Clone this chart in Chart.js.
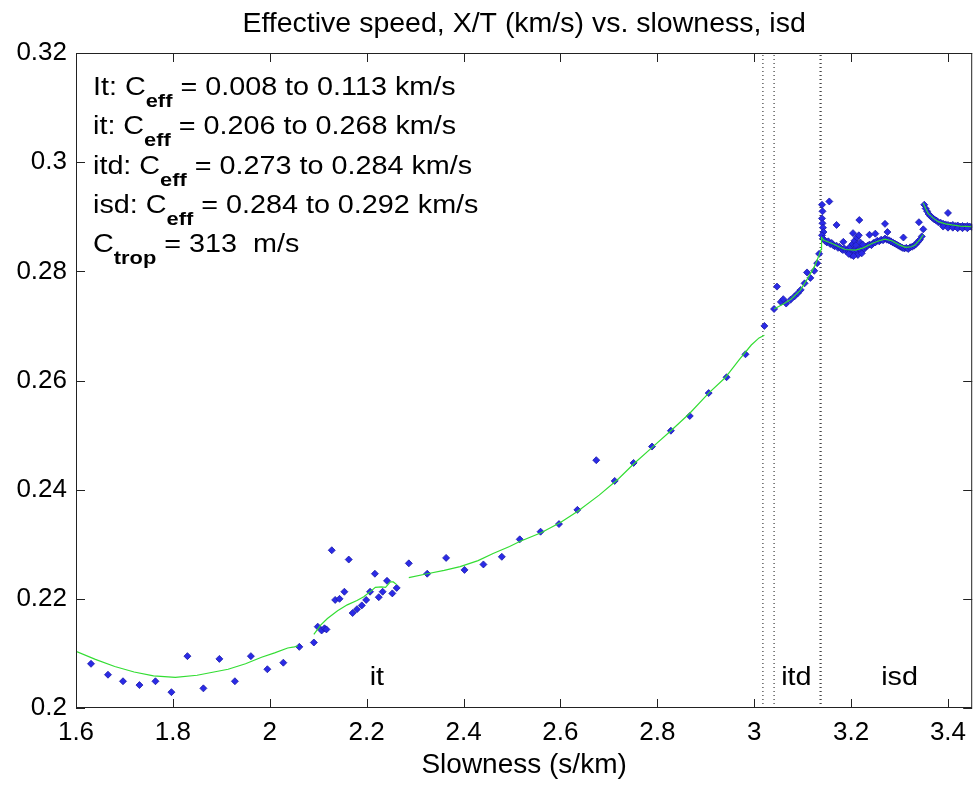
<!DOCTYPE html>
<html>
<head>
<meta charset="utf-8">
<script src="https://cdn.jsdelivr.net/npm/chart.js@4"></script>
<style>
  html, body { margin: 0; padding: 0; background: #fff; }
  #wrap { width: 977px; height: 786px; }
</style>
</head>
<body>
<div id="wrap"><canvas id="speedChart" width="977" height="786"></canvas></div>
<script>
// measured points (slowness s/km, effective speed km/s)
const slownessPts = [
  1.631, 1.666, 1.697, 1.731, 1.764, 1.797, 1.830, 1.863, 1.896, 1.928, 1.961, 1.995, 2.028, 2.061,
  2.091, 2.099, 2.107, 2.113, 2.117, 2.128, 2.135, 2.144, 2.154, 2.163, 2.171, 2.180, 2.190, 2.199,
  2.207, 2.217, 2.225, 2.233, 2.242, 2.253, 2.262, 2.287, 2.325, 2.364, 2.402, 2.441, 2.479, 2.516,
  2.559, 2.597, 2.635, 2.674, 2.712, 2.751, 2.789, 2.828, 2.867, 2.906, 2.943, 2.982, 3.021,
  // itd
  3.041, 3.047, 3.055, 3.060, 3.066, 3.075, 3.083, 3.090, 3.096, 3.104, 3.109, 3.116, 3.124, 3.130, 3.134,
  // isd
  3.140, 3.141, 3.140, 3.141, 3.142, 3.143, 3.140, 3.142, 3.155,
  3.146, 3.150, 3.153, 3.157, 3.160, 3.163, 3.166, 3.170, 3.173, 3.176, 3.180, 3.183, 3.186, 3.190,
  3.193, 3.196, 3.199, 3.202, 3.205, 3.208, 3.211, 3.214, 3.217, 3.220, 3.223, 3.227, 3.230, 3.234,
  3.238, 3.242, 3.246, 3.250, 3.254, 3.258, 3.262, 3.266, 3.270, 3.274, 3.278, 3.282, 3.286, 3.290,
  3.294, 3.298, 3.302, 3.306, 3.310, 3.314, 3.318, 3.322, 3.326, 3.330, 3.334, 3.338, 3.342, 3.346,
  3.198, 3.203, 3.207, 3.212, 3.216, 3.210, 3.219, 3.224, 3.200, 3.214, 3.222, 3.205, 3.195,
  3.170, 3.217, 3.270, 3.275, 3.238, 3.184, 3.204, 3.308, 3.340, 3.349, 3.400, 3.250,
  3.351, 3.354, 3.357, 3.360, 3.364, 3.368, 3.372, 3.376, 3.380, 3.385, 3.390, 3.395, 3.400, 3.405,
  3.410, 3.415, 3.420, 3.425, 3.430, 3.435, 3.440, 3.445, 3.449,
  3.390, 3.400, 3.410, 3.420, 3.430, 3.440
];
const speedPts = [
  0.2081, 0.2061, 0.2049, 0.2042, 0.2049, 0.2029, 0.2095, 0.2036, 0.2090, 0.2049, 0.2095, 0.2071, 0.2083, 0.2112,
  0.2120, 0.2149, 0.2142, 0.2146, 0.2144, 0.2289, 0.2198, 0.2200, 0.2213, 0.2272, 0.2174, 0.2181, 0.2188, 0.2198,
  0.2213, 0.2246, 0.2203, 0.2213, 0.2233, 0.2210, 0.2220, 0.2265, 0.2246, 0.2275, 0.2253, 0.2263, 0.2277, 0.2309,
  0.2323, 0.2337, 0.2363, 0.2454, 0.2416, 0.2449, 0.2479, 0.2508, 0.2535, 0.2577, 0.2606, 0.2648, 0.2700,
  0.2731, 0.2772, 0.2744, 0.2749, 0.2741, 0.2748, 0.2754, 0.2760, 0.2766, 0.2778, 0.2798, 0.2788, 0.2801, 0.2815, 0.2832,
  0.2922, 0.2910, 0.2897, 0.2888, 0.2880, 0.2872, 0.2866, 0.2860, 0.2928,
  0.2856, 0.2853, 0.2855, 0.2850, 0.2852, 0.2848, 0.2846, 0.2847, 0.2843, 0.2845, 0.2841, 0.2839, 0.2842, 0.2837,
  0.2840, 0.2836, 0.2839, 0.2835, 0.2838, 0.2836, 0.2840, 0.2837, 0.2841, 0.2839, 0.2843, 0.2841, 0.2845, 0.2847,
  0.2849, 0.2848, 0.2852, 0.2853, 0.2856, 0.2855, 0.2858, 0.2857, 0.2860, 0.2858, 0.2857, 0.2855, 0.2853, 0.2851,
  0.2849, 0.2847, 0.2845, 0.2843, 0.2842, 0.2843, 0.2841, 0.2844, 0.2845, 0.2847, 0.2850, 0.2854, 0.2858, 0.2864,
  0.2845, 0.2850, 0.2856, 0.2862, 0.2866, 0.2848, 0.2853, 0.2849, 0.2830, 0.2830, 0.2833, 0.2828, 0.2832,
  0.2885, 0.2894, 0.2887, 0.2872, 0.2867, 0.2854, 0.2870, 0.2862, 0.2890, 0.2877, 0.2907, 0.2869,
  0.2922, 0.2915, 0.2910, 0.2905, 0.2901, 0.2898, 0.2895, 0.2893, 0.2890, 0.2889, 0.2887, 0.2886, 0.2885, 0.2884,
  0.2885, 0.2883, 0.2884, 0.2882, 0.2883, 0.2882, 0.2883, 0.2882, 0.2881,
  0.2882, 0.2880, 0.2880, 0.2879, 0.2879, 0.2879
];

// fitted curve, null marks a break between pieces
const fitX = [
  1.600, 1.640, 1.680, 1.720, 1.760, 1.805, 1.850, 1.914, 1.950, 1.983, 2.010, 2.037, 2.051, 2.058, 2.070,
  2.091, 2.105, 2.119, 2.140, 2.160, 2.180, 2.194, 2.210, 2.218, 2.230, 2.239, 2.249, 2.255, 2.262, 2.275,
  2.287, 2.325, 2.360, 2.393, 2.430, 2.461, 2.495, 2.516, 2.560, 2.600, 2.635, 2.680, 2.720, 2.751, 2.790,
  2.828, 2.867, 2.906, 2.940, 2.970, 2.994, 3.010, 3.021, 3.030,
  3.041, 3.060, 3.076, 3.095, 3.111, 3.125, 3.134, 3.138,
  3.139, 3.144, 3.161, 3.175, 3.188, 3.209, 3.225, 3.243, 3.258, 3.270, 3.284, 3.298, 3.312, 3.325, 3.332, 3.342, 3.349, 3.349,
  3.349, 3.354, 3.359, 3.370, 3.380, 3.395, 3.408, 3.425, 3.449
];
const fitY = [
  0.2104, 0.2089, 0.2076, 0.2066, 0.2059, 0.2056, 0.2060, 0.2071, 0.2081, 0.2093, 0.2101, 0.2110, 0.2112, 0.2114, null,
  0.2135, 0.2152, 0.2164, 0.2178, 0.2189, 0.2197, 0.2204, 0.2215, 0.2221, 0.2222, 0.2221, 0.2231, 0.2231, 0.2226, null,
  0.2239, 0.2246, 0.2252, 0.2259, 0.2270, 0.2283, 0.2296, 0.2305, 0.2321, 0.2340, 0.2360, 0.2390, 0.2420, 0.2447, 0.2478,
  0.2508, 0.2540, 0.2577, 0.2605, 0.2639, 0.2665, 0.2678, 0.2683, null,
  0.2731, 0.2740, 0.2749, 0.2765, 0.2788, 0.2810, 0.2830, 0.2840,
  0.2862, 0.2857, 0.2851, 0.2845, 0.2840, 0.2839, 0.2843, 0.2851, 0.2856, 0.2859, 0.2856, 0.2849, 0.2844, 0.2845, 0.2848, 0.2858, 0.2867, null,
  0.2925, 0.2915, 0.2906, 0.2897, 0.2891, 0.2887, 0.2885, 0.2883, 0.2882
];

// region boundaries (dotted verticals)
const boundaryX = [3.018, 3.041, 3.136, 3.138];

const xTicks = [1.6, 1.8, 2.0, 2.2, 2.4, 2.6, 2.8, 3.0, 3.2, 3.4];
const xTickLabels = ['1.6', '1.8', '2', '2.2', '2.4', '2.6', '2.8', '3', '3.2', '3.4'];
const yTicks = [0.2, 0.22, 0.24, 0.26, 0.28, 0.3, 0.32];
const yTickLabels = ['0.2', '0.22', '0.24', '0.26', '0.28', '0.3', '0.32'];

const regionNames = ['it', 'itd', 'isd'];
const regionX = [2.221, 3.087, 3.300];
const regionY = 0.2042;

const notePre = ['It: C', 'it: C', 'itd: C', 'isd: C', 'C'];
const noteSub = ['eff', 'eff', 'eff', 'eff', 'trop'];
const notePost = [' = 0.008 to 0.113 km/s', ' = 0.206 to 0.268 km/s', ' = 0.273 to 0.284 km/s', ' = 0.284 to 0.292 km/s', ' = 313  m/s'];

const FONT = '"Liberation Sans", Arial, sans-serif';
const STRETCH = 1.15;

let pts = slownessPts.map((x, i) => ({ x: x, y: speedPts[i] }));
let fit = fitX.map((x, i) => ({ x: x, y: fitY[i] }));

let vlines = boundaryX.map(x => ({
    type: 'line',
    data: [{ x: x, y: 0.2 }, { x: x, y: 0.32 }],
    borderColor: '#111',
    borderWidth: 1,
    borderDash: [1, 3],
    pointRadius: 0,
    showLine: true
}));

// box, inward ticks and the text annotations
const matlabAxes = {
    id: 'matlabAxes',
    afterDatasetsDraw(chart) {
        const ctx = chart.ctx;
        const a = chart.chartArea;
        const xs = chart.scales.x;
        const ys = chart.scales.y;
        ctx.save();
        ctx.strokeStyle = '#222';
        ctx.lineWidth = 1;
        ctx.strokeRect(a.left + 0.5, a.top + 0.5, a.right - a.left - 1, a.bottom - a.top - 1);
        ctx.beginPath();
        xTicks.forEach(v => {
            let px = Math.round(xs.getPixelForValue(v)) + 0.5;
            ctx.moveTo(px, a.bottom); ctx.lineTo(px, a.bottom - 9);
            ctx.moveTo(px, a.top); ctx.lineTo(px, a.top + 9);
        });
        yTicks.forEach(v => {
            let py = Math.round(ys.getPixelForValue(v)) + 0.5;
            ctx.moveTo(a.left, py); ctx.lineTo(a.left + 9, py);
            ctx.moveTo(a.right, py); ctx.lineTo(a.right - 9, py);
        });
        ctx.stroke();

        ctx.fillStyle = '#000';
        ctx.textBaseline = 'alphabetic';

        // region names
        ctx.textAlign = 'center';
        regionNames.forEach((t, i) => {
            ctx.save();
            ctx.translate(xs.getPixelForValue(regionX[i]), ys.getPixelForValue(regionY));
            ctx.scale(STRETCH, 1);
            ctx.font = '25px ' + FONT;
            ctx.fillText(t, 0, 0);
            ctx.restore();
        });

        // notes in the top-left corner
        ctx.textAlign = 'left';
        notePre.forEach((t, i) => {
            ctx.save();
            ctx.translate(a.left + 17, a.top + 42 + i * 39.3);
            ctx.scale(STRETCH, 1);
            ctx.font = '25px ' + FONT;
            ctx.fillText(t, 0, 0);
            let w = ctx.measureText(t).width;
            ctx.font = 'bold 19px ' + FONT;
            ctx.fillText(noteSub[i], w, 12);
            w += ctx.measureText(noteSub[i]).width;
            ctx.font = '25px ' + FONT;
            ctx.fillText(notePost[i], w, 0);
            ctx.restore();
        });
        ctx.restore();
    }
};

const ctx = document.getElementById('speedChart').getContext('2d');
new Chart(ctx, {
    type: 'scatter',
    data: {
        datasets: [{
            label: 'fit',
            type: 'line',
            data: fit,
            borderColor: '#33dd33',
            borderWidth: 1.2,
            pointRadius: 0,
            spanGaps: false,
            tension: 0
        }, {
            label: 'measured',
            data: pts,
            pointStyle: 'rectRot',
            pointRadius: 3.5,
            backgroundColor: '#2a2ae6',
            borderColor: '#1a1aa8',
            borderWidth: 0.8
        }, ...vlines]
    },
    options: {
        responsive: false,
        animation: false,
        layout: { padding: { left: 0, right: 1, top: 0, bottom: 0 } },
        scales: {
            x: {
                type: 'linear',
                min: 1.6,
                max: 3.45,
                grid: { display: false, drawTicks: false },
                border: { display: false },
                afterBuildTicks: (scale) => { scale.ticks = xTicks.map(v => ({ value: v })); },
                afterFit: (scale) => {
                    scale.height = 78;
                    scale.paddingLeft = 0;
                    scale.paddingRight = 0;
                },
                ticks: {
                    padding: 9,
                    color: '#000',
                    font: { family: FONT, size: 26 },
                    maxRotation: 0,
                    autoSkip: false,
                    callback: (v, i) => xTickLabels[i]
                },
                title: {
                    display: true,
                    text: 'Slowness (s/km)',
                    color: '#000',
                    font: { family: FONT, size: 28 },
                    padding: { top: 0, bottom: 4 }
                }
            },
            y: {
                type: 'linear',
                min: 0.2,
                max: 0.32,
                grid: { display: false, drawTicks: false },
                border: { display: false },
                afterBuildTicks: (scale) => { scale.ticks = yTicks.map(v => ({ value: v })); },
                afterFit: (scale) => { scale.width = 76; },
                ticks: {
                    padding: 9,
                    color: '#000',
                    font: { family: FONT, size: 26 },
                    autoSkip: false,
                    callback: (v, i) => yTickLabels[i]
                }
            }
        },
        plugins: {
            legend: { display: false },
            tooltip: { enabled: false },
            title: {
                display: true,
                fullSize: false,
                text: 'Effective speed, X/T (km/s) vs. slowness, isd',
                color: '#000',
                font: { family: FONT, size: 28.5, weight: 'normal' },
                padding: { top: 7, bottom: 11.8 }
            }
        }
    },
    plugins: [matlabAxes]
});
</script>
</body>
</html>
